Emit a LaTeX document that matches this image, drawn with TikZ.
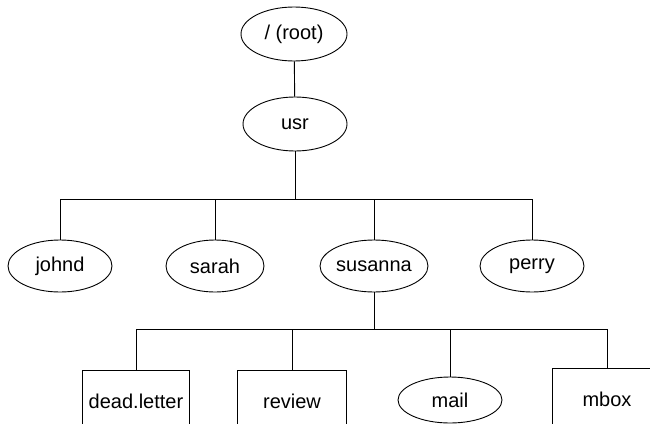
\documentclass[tikz,border=0pt]{standalone}
\usepackage{fontspec}
\setmainfont{Liberation Sans}
\usetikzlibrary{shapes.geometric}
\begin{document}
\begin{tikzpicture}[x=1pt,y=-1pt, line width=0.9pt,
  oval/.style={draw, ellipse, inner sep=0pt, minimum height=54pt, font=\fontsize{20}{22}\selectfont},
  filebox/.style={draw, rectangle, inner sep=0pt, minimum height=62pt, font=\fontsize{20}{22}\selectfont}]
\useasboundingbox (0,0) rectangle (650,423);
\clip (0,0) rectangle (650,423);
\node[oval, minimum width=106pt] (root) at (294,34) {/ (root)};
\node[oval, minimum width=104pt] (usr) at (295,124) {usr};
\node[oval, minimum width=104pt, minimum height=52pt] (johnd) at (60,266) {johnd};
\node[oval, minimum width=98pt, minimum height=52pt] (sarah) at (215,266) {sarah};
\node[oval, minimum width=108pt, minimum height=52pt] (susanna) at (374,266) {susanna};
\node[oval, minimum width=104pt, minimum height=52pt] (perry) at (532,266) {perry};
\node[filebox, minimum width=107pt] (dead) at (136,401) {dead.letter};
\node[filebox, minimum width=109pt] (review) at (292,401) {review};
\node[oval, minimum width=104pt, minimum height=46pt] (mail) at (450,400) {mail};
\node[filebox, minimum width=110pt] (mbox) at (607,399) {mbox};
\coordinate (b1) at (295,199);
\coordinate (b2) at (374,329);
\draw (root) -- (usr);
\draw (usr) -- (b1);
\draw (b1) -| (johnd.north);
\draw (b1) -| (sarah.north);
\draw (b1) -| (susanna.north);
\draw (b1) -| (perry.north);
\draw (susanna) -- (b2);
\draw (b2) -| (dead.north);
\draw (b2) -| (review.north);
\draw (b2) -| (mail.north);
\draw (b2) -| (mbox.north);
\end{tikzpicture}
\end{document}
